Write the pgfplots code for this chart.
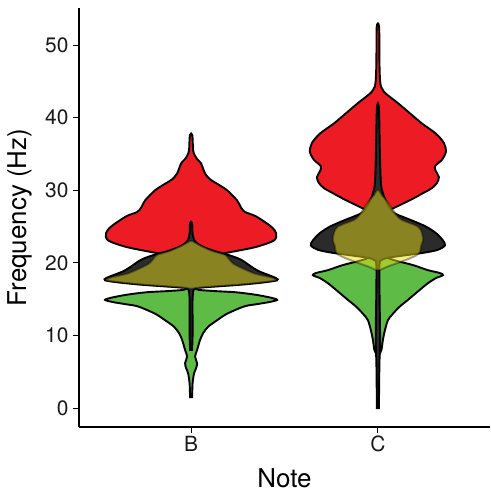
\documentclass[border=0pt]{standalone}
\usepackage{pgfplots}
\pgfplotsset{compat=1.18}
\usepackage{fontspec}
\setmainfont{TeX Gyre Heros}
\definecolor{vred}{HTML}{ED1C24}
\definecolor{vgreen}{HTML}{5DBB46}
\definecolor{vgray}{HTML}{2B2B2B}
\definecolor{vyellow}{HTML}{EADC1A}
\begin{document}
\begin{tikzpicture}
\useasboundingbox (-79bp,-63bp) rectangle (412bp,427bp);
\begin{axis}[
  at={(0,0)}, anchor=south west, scale only axis,
  width=411bp, height=419bp,
  xmin=0.4, xmax=2.6, ymin=-2.6, ymax=55.1,
  axis x line*=bottom, axis y line*=left,
  axis line style={line width=1.2bp, -},
  xtick={1,2}, xticklabels={B,C},
  ytick={0,10,20,30,40,50},
  tick align=outside, major tick length=5.5bp,
  tick style={line width=0.9bp, black},
  tick label style={font=\fontsize{21}{24}\selectfont, text=black!90},
  yticklabel style={xshift=-1.5bp},
  /pgf/number format/assume math mode=true,
  ylabel={Frequency (Hz)}, xlabel={Note},
  label style={font=\fontsize{26}{30}\selectfont, inner sep=0pt},
  ylabel style={at={(axis description cs:-0.1436,0.5)}, anchor=center},
  xlabel style={at={(axis description cs:0.5,-0.1217)}, anchor=center},
  vio/.style={smooth, tension=0.5, draw=black, line width=1.9bp},
]
% ---------- Note B (x = 1) ----------
\addplot[vio, fill=vred] table[x expr={1+0.005353*\thisrow{w}}, y=y]{
y w
20.0 1
20.5 5
21.0 20
21.5 40
22.2 65
23.1 83
24.1 85
25.0 80
26.4 65
27.0 54
27.6 50
28.6 46
30.0 36
30.9 26
31.5 19
32.3 14
33.7 10
34.3 6
35.0 3
35.5 2
37.6 1.2
37.6 -1.2
35.5 -2
35.0 -3
34.3 -6
33.7 -10
32.3 -14
31.5 -19
30.9 -26
30.0 -36
28.6 -46
27.6 -50
27.0 -54
26.4 -65
25.0 -80
24.1 -85
23.1 -83
22.2 -65
21.5 -40
21.0 -20
20.5 -5
20.0 -1
} -- cycle;
\addplot[vio, fill=vgreen] table[x expr={1+0.005353*\thisrow{w}}, y=y]{
y w
1.5 1
3.4 1.5
4.8 3
5.5 5
6.2 6
7.1 4
8.0 6
9.4 9
10.3 12
11.2 17
12.1 26
13.0 36
14.0 53
14.3 65
14.6 78
14.9 86
15.2 80
15.6 65
15.95 45
16.15 20
16.4 5
17.5 3
20.0 2
22.5 1
22.5 -1
20.0 -2
17.5 -3
16.4 -5
16.15 -20
15.95 -45
15.6 -65
15.2 -80
14.9 -86
14.6 -78
14.3 -65
14.0 -53
13.0 -36
12.1 -26
11.2 -17
10.3 -12
9.4 -9
8.0 -6
7.1 -4
6.2 -6
5.5 -5
4.8 -3
3.4 -1.5
1.5 -1
} -- cycle;
\addplot[vio, fill=vgray] table[x expr={1+0.005353*\thisrow{w}}, y=y]{
y w
8.0 1
10.0 1.5
12.0 1.5
15.0 1.5
16.4 3
16.6 10
16.8 30
17.0 50
17.3 72
17.6 86
17.9 85
18.3 78
18.9 67
19.6 59
20.5 49
21.2 35
21.6 24
22.2 12
22.7 6
23.2 3
24.0 1.5
25.5 1
25.5 -1
24.0 -1.5
23.2 -3
22.7 -6
22.2 -12
21.6 -24
21.2 -35
20.5 -49
19.6 -59
18.9 -67
18.3 -78
17.9 -85
17.6 -86
17.3 -72
17.0 -50
16.8 -30
16.6 -10
16.4 -3
15.0 -1.5
12.0 -1.5
10.0 -1.5
8.0 -1
} -- cycle;
\addplot[vio, fill=vyellow, fill opacity=0.5, draw opacity=0.35] table[x expr={1+0.005353*\thisrow{w}}, y=y]{
y w
16.45 1
16.6 9
16.8 28
17.0 48
17.3 70
17.6 85
18.0 80
18.5 64
19.2 52
19.9 42
20.5 38
21.1 34
21.6 22
22.2 12
22.7 5
23.0 1
23.0 -1
22.7 -5
22.2 -12
21.6 -22
21.1 -34
20.5 -38
19.9 -42
19.2 -52
18.5 -64
18.0 -80
17.6 -85
17.3 -70
17.0 -48
16.8 -28
16.6 -9
16.45 -1
} -- cycle;
% ---------- Note C (x = 2) ----------
\addplot[vio, fill=vred] table[x expr={2+0.005353*\thisrow{w}}, y=y]{
y w
26.0 1
26.5 3
27.0 8
27.7 18
28.7 33
29.6 45
30.3 54
31.0 59
31.8 61
32.6 58
33.3 57
34.2 64
35.3 68
36.5 66
37.8 58
39.2 44
40.6 32
42.0 20
43.3 8
43.8 5
44.3 3
45.5 2
48.0 1.5
52.5 1.2
52.5 -1.2
48.0 -1.5
45.5 -2
44.3 -3
43.8 -5
43.3 -8
42.0 -20
40.6 -32
39.2 -44
37.8 -58
36.5 -66
35.3 -68
34.2 -64
33.3 -57
32.6 -58
31.8 -61
31.0 -59
30.3 -54
29.6 -45
28.7 -33
27.7 -18
27.0 -8
26.5 -3
26.0 -1
} -- cycle;
\addplot[vio, fill=vgreen] table[x expr={2+0.005353*\thisrow{w}}, y=y]{
y w
7.3 1
8.0 3.5
9.4 5
10.7 7
12.1 10
13.0 15
14.0 22
14.9 30
16.3 42
17.2 50
17.9 58
18.3 65
18.6 62
19.0 50
19.7 35
20.3 18
20.8 8
21.5 3
24.0 1
24.0 -1
21.5 -3
20.8 -8
20.3 -18
19.7 -35
19.0 -50
18.6 -62
18.3 -65
17.9 -58
17.2 -50
16.3 -42
14.9 -30
14.0 -22
13.0 -15
12.1 -10
10.7 -7
9.4 -5
8.0 -3.5
7.3 -1
} -- cycle;
\addplot[vio, fill=vgray] table[x expr={2+0.005353*\thisrow{w}}, y=y]{
y w
0.0 1
6.0 1.5
9.0 2.2
12.0 2
19.5 1.5
20.4 4
20.7 10
21.0 25
21.4 46
21.8 60
22.4 67
23.1 65
24.1 58
25.0 48
25.9 33
26.8 17
27.5 12
28.5 8
29.6 5
31.0 3
35.0 2
41.3 1
41.3 -1
35.0 -2
31.0 -3
29.6 -5
28.5 -8
27.5 -12
26.8 -17
25.9 -33
25.0 -48
24.1 -58
23.1 -65
22.4 -67
21.8 -60
21.4 -46
21.0 -25
20.7 -10
20.4 -4
19.5 -1.5
12.0 -2
9.0 -2.2
6.0 -1.5
0.0 -1
} -- cycle;
\addplot[vio, fill=vyellow, fill opacity=0.5, draw opacity=0.35] table[x expr={2+0.005353*\thisrow{w}}, y=y]{
y w
19.0 2
19.4 8
19.9 18
20.4 28
21.0 38
21.5 42
22.3 43
23.1 45
24.1 44
25.0 40
25.9 24
26.5 19
27.5 14
28.7 8
29.3 4
30.0 1
30.0 -1
29.3 -4
28.7 -8
27.5 -14
26.5 -19
25.9 -24
25.0 -40
24.1 -44
23.1 -45
22.3 -43
21.5 -42
21.0 -38
20.4 -28
19.9 -18
19.4 -8
19.0 -2
} -- cycle;
\end{axis}
\end{tikzpicture}
\end{document}
